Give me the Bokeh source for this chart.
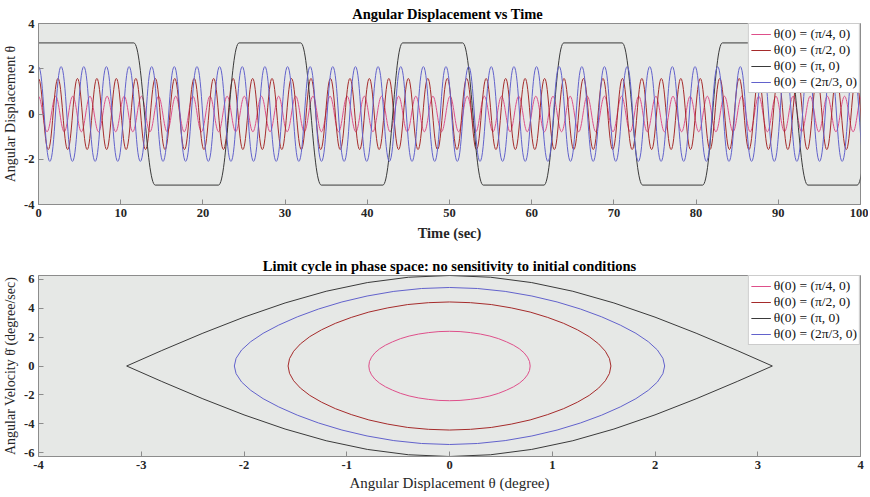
import numpy as np
from bokeh.plotting import figure
from bokeh.layouts import column
from bokeh.models import (LinearAxis, Range1d, Legend, LegendItem, FixedTicker,
                          ColumnDataSource, CustomJSTickFormatter)
from bokeh.embed import file_html
from bokeh.resources import INLINE

# ------------------------------------------------------------------ data
series_labels = ["θ(0) = (π/4, 0)", "θ(0) = (π/2, 0)", "θ(0) = (π, 0)", "θ(0) = (2π/3, 0)"]

time_ticks = [0, 10, 20, 30, 40, 50, 60, 70, 80, 90, 100]
theta_ticks = [-4, -2, 0, 2, 4]
phase_x_ticks = [-4, -3, -2, -1, 0, 1, 2, 3, 4]
phase_y_ticks = [-6, -4, -2, 0, 2, 4, 6]

# time histories: amplitude (rad) and times (s) of the maxima / minima
pink_amp = 0.785
pink_max_t = [0.00, 2.09, 4.17, 6.26, 8.35, 10.43, 12.52, 14.60, 16.69, 18.78, 20.86,
              22.95, 25.04, 27.12, 29.21, 31.29, 33.38, 35.47, 37.55, 39.64, 41.73,
              43.81, 45.90, 47.98, 50.07, 52.16, 54.24, 56.33, 58.42, 60.50, 62.59,
              64.68, 66.76, 68.85, 70.93, 73.02, 75.11, 77.19, 79.28, 81.37, 83.45,
              85.54, 87.62, 89.71, 91.80, 93.88, 95.97, 98.06, 100.14]
pink_min_t = [1.04, 3.13, 5.22, 7.30, 9.39, 11.47, 13.56, 15.65, 17.73, 19.82, 21.91,
              23.99, 26.08, 28.17, 30.25, 32.34, 34.42, 36.51, 38.60, 40.68, 42.77,
              44.86, 46.94, 49.03, 51.11, 53.20, 55.29, 57.37, 59.46, 61.55, 63.63,
              65.72, 67.80, 69.89, 71.98, 74.06, 76.15, 78.24, 80.32, 82.41, 84.50,
              86.58, 88.67, 90.75, 92.84, 94.93, 97.01, 99.10]

red_amp = 1.571
red_max_t = [0.00, 2.37, 4.74, 7.10, 9.47, 11.84, 14.21, 16.58, 18.94, 21.31, 23.68,
             26.05, 28.41, 30.78, 33.15, 35.52, 37.89, 40.25, 42.62, 44.99, 47.36,
             49.73, 52.09, 54.46, 56.83, 59.20, 61.57, 63.93, 66.30, 68.67, 71.04,
             73.40, 75.77, 78.14, 80.51, 82.88, 85.24, 87.61, 89.98, 92.35, 94.72,
             97.08, 99.45]
red_min_t = [1.18, 3.55, 5.92, 8.29, 10.66, 13.02, 15.39, 17.76, 20.13, 22.50, 24.86,
             27.23, 29.60, 31.97, 34.33, 36.70, 39.07, 41.44, 43.81, 46.17, 48.54,
             50.91, 53.28, 55.65, 58.01, 60.38, 62.75, 65.12, 67.49, 69.85, 72.22,
             74.59, 76.96, 79.32, 81.69, 84.06, 86.43, 88.80, 91.16, 93.53, 95.90,
             98.27, 100.64]

blue_amp = 2.094
blue_max_t = [0.00, 2.75, 5.51, 8.26, 11.02, 13.77, 16.52, 19.28, 22.03, 24.79, 27.54,
              30.30, 33.05, 35.80, 38.56, 41.31, 44.07, 46.82, 49.57, 52.33, 55.08,
              57.84, 60.59, 63.34, 66.10, 68.85, 71.61, 74.36, 77.11, 79.87, 82.62,
              85.38, 88.13, 90.89, 93.64, 96.39, 99.15]
blue_min_t = [1.38, 4.13, 6.89, 9.64, 12.39, 15.15, 17.90, 20.66, 23.41, 26.16, 28.92,
              31.67, 34.43, 37.18, 39.93, 42.69, 45.44, 48.20, 50.95, 53.71, 56.46,
              59.21, 61.97, 64.72, 67.48, 70.23, 72.98, 75.74, 78.49, 81.25, 84.00,
              86.75, 89.51, 92.26, 95.02, 97.77, 100.52]

# theta(0) = pi : sits at +/- pi and flips over; start / end time of each flip (s)
black_level = 3.1416
black_switch_start = [11.6, 21.9, 31.9, 41.9, 51.6, 61.5, 71.0, 80.8, 91.0, 99.6]
black_switch_end = [14.2, 24.4, 34.4, 44.3, 54.1, 63.9, 73.5, 83.2, 93.6, 102.2]

# phase portraits: one quarter of each orbit (theta >= 0, theta_dot >= 0)
pink_q_theta = [0, 0.103, 0.203, 0.301, 0.393, 0.478, 0.555, 0.623, 0.680, 0.726, 0.759, 0.779, 0.785]
pink_q_omega = [2.40, 2.38, 2.31, 2.21, 2.07, 1.89, 1.67, 1.44, 1.19, 0.91, 0.61, 0.31, 0]
red_q_theta = [0, 0.205, 0.407, 0.601, 0.785, 0.956, 1.111, 1.246, 1.360, 1.451, 1.517, 1.557, 1.571]
red_q_omega = [4.43, 4.38, 4.25, 4.02, 3.73, 3.36, 2.95, 2.50, 2.03, 1.53, 1.02, 0.51, 0]
black_q_theta = [0, 0.4, 0.8, 1.2, 1.6, 2.0, 2.4, 2.8, 3.142]
black_q_omega = [6.26, 6.14, 5.77, 5.17, 4.36, 3.38, 2.27, 1.07, 0]
blue_q_theta = [0, 0.273, 0.542, 0.802, 1.047, 1.275, 1.481, 1.662, 1.814, 1.935, 2.023, 2.077, 2.094]
blue_q_omega = [5.43, 5.36, 5.16, 4.84, 4.43, 3.94, 3.40, 2.83, 2.26, 1.68, 1.11, 0.53, 0]

# ------------------------------------------------------------------ style
FONT = "Liberation Serif"
FRAME_BG = "#E6E8E6"
AX = "#8c8c8c"
TXT = "#262626"
COLORS = ["#DE4F8A", "#A52B2B", "#3a3a3a", "#6262CC"]
# bezier handle fraction (wave shape) per series
SHAPE = {"pink": 0.372, "red": 0.401, "blue": 0.439, "black": 0.42}
FIG_W = 868


def osc_source(amp, max_t, min_t, shape):
    ext = sorted([(t, amp) for t in max_t] + [(t, -amp) for t in min_t])
    t = np.array([e[0] for e in ext])
    v = np.array([e[1] for e in ext])
    dt = t[1:] - t[:-1]
    return ColumnDataSource(dict(x0=t[:-1], y0=v[:-1], x1=t[1:], y1=v[1:],
                                 cx0=t[:-1] + shape * dt, cy0=v[:-1],
                                 cx1=t[1:] - shape * dt, cy1=v[1:]))


def black_sources(level, starts, ends, shape):
    fx0, fx1, fy = [], [], []
    bx0, by0, bx1, by1 = [], [], [], []
    prev = 0.0
    lev = level
    for s, e in zip(starts, ends):
        fx0.append(prev); fx1.append(s); fy.append(lev)
        bx0.append(s); by0.append(lev); bx1.append(e); by1.append(-lev)
        prev = e
        lev = -lev
    if prev < 100:
        fx0.append(prev); fx1.append(100); fy.append(lev)
    bx0, bx1 = np.array(bx0), np.array(bx1)
    w = bx1 - bx0
    flats = ColumnDataSource(dict(x0=fx0, x1=fx1, y0=fy, y1=fy))
    trans = ColumnDataSource(dict(x0=bx0, y0=by0, x1=bx1, y1=by1,
                                  cx0=bx0 + shape * w, cy0=by0,
                                  cx1=bx1 - shape * w, cy1=by1))
    return flats, trans


def orbit(q_theta, q_omega):
    th = np.array(q_theta, dtype=float)
    om = np.array(q_omega, dtype=float)
    ux = np.concatenate([-th[::-1], th[1:]])
    uy = np.concatenate([om[::-1], om[1:]])
    lx = ux[::-1][1:]
    ly = -uy[::-1][1:]
    return np.concatenate([ux, lx]), np.concatenate([uy, ly])


def make_fig(title, xlab, ylab, xr, yr, xt, yt, xlab_bold, lab_size, ylab_size,
             height, top, bottom, title_standoff, xlab_standoff):
    p = figure(width=FIG_W, height=height, x_range=Range1d(*xr), y_range=Range1d(*yr),
               output_backend="svg", toolbar_location=None,
               x_axis_location=None, y_axis_location=None,
               min_border_left=38, min_border_right=8,
               min_border_top=top, min_border_bottom=bottom,
               background_fill_color=FRAME_BG, border_fill_color="white",
               outline_line_color=AX, outline_line_width=1)
    p.xgrid.visible = False
    p.ygrid.visible = False
    p.title.text = title
    p.title.align = "center"
    p.title.text_font = FONT
    p.title.text_font_size = "14.5px"
    p.title.text_font_style = "bold"
    p.title.text_color = "#000000"
    p.title.standoff = title_standoff

    plain = CustomJSTickFormatter(code="return tick.toString()")
    axes = {
        "below": LinearAxis(ticker=FixedTicker(ticks=xt), axis_label=xlab, formatter=plain),
        "left": LinearAxis(ticker=FixedTicker(ticks=yt), axis_label=ylab, formatter=plain),
    }
    for loc, ax in axes.items():
        ax.axis_line_color = AX
        ax.major_tick_line_color = AX
        ax.major_tick_in = 5
        ax.major_tick_out = 0
        ax.minor_tick_line_color = None
        ax.major_label_text_font = FONT
        ax.major_label_text_font_size = "12.5px"
        ax.major_label_text_font_style = "bold"
        ax.major_label_text_color = TXT
        ax.major_label_standoff = 4
        ax.axis_label_text_font = FONT
        ax.axis_label_text_color = TXT
        ax.axis_label_standoff = 3
        ax.axis_label_text_font_style = "normal"
        p.add_layout(ax, loc)
    axes["below"].axis_label_text_font_size = lab_size
    axes["below"].axis_label_standoff = xlab_standoff
    axes["left"].axis_label_text_font_size = ylab_size
    if xlab_bold:
        axes["below"].axis_label_text_font_style = "bold"
    return p


def add_legend(p, renderers):
    legend = Legend(items=[LegendItem(label=l, renderers=[r])
                           for l, r in zip(series_labels, renderers)],
                    location="top_right", margin=0, padding=2, spacing=0,
                    label_text_font=FONT, label_text_font_size="13.5px",
                    label_text_color="#111111",
                    label_height=16, glyph_height=16, glyph_width=20, label_standoff=3,
                    border_line_color="#9a9a9a", border_line_width=1,
                    background_fill_color="white", background_fill_alpha=1)
    p.add_layout(legend)


# ------------------------------------------------------------------ top plot
p1 = make_fig("Angular Displacement  vs Time", "Time (sec)", "Angular Displacement θ",
              (0, 100), (-4, 4), time_ticks, theta_ticks, True, "14.5px", "14px",
              248, 23, 44, 4, 5)

src_pink = osc_source(pink_amp, pink_max_t, pink_min_t, SHAPE["pink"])
src_red = osc_source(red_amp, red_max_t, red_min_t, SHAPE["red"])
src_blue = osc_source(blue_amp, blue_max_t, blue_min_t, SHAPE["blue"])
flats, trans = black_sources(black_level, black_switch_start, black_switch_end, SHAPE["black"])

bz = dict(x0="x0", y0="y0", x1="x1", y1="y1", cx0="cx0", cy0="cy0", cx1="cx1", cy1="cy1")
p1.bezier(source=src_pink, line_color=COLORS[0], line_width=1, **bz)
p1.bezier(source=src_red, line_color=COLORS[1], line_width=1, **bz)
p1.segment(x0="x0", y0="y0", x1="x1", y1="y1", source=flats, line_color=COLORS[2], line_width=1)
p1.bezier(source=trans, line_color=COLORS[2], line_width=1, **bz)
p1.bezier(source=src_blue, line_color=COLORS[3], line_width=1, **bz)

# legend keys: line renderers placed outside the visible time range
leg1 = []
for c, a in zip(COLORS, [pink_amp, red_amp, black_level, blue_amp]):
    leg1.append(p1.line(x=[-20, -10], y=[a, a], line_color=c, line_width=1))
add_legend(p1, leg1)

# ------------------------------------------------------------------ phase plot
p2 = make_fig("Limit cycle in phase space: no sensitivity to initial conditions",
              "Angular Displacement θ (degree)", "Angular Velocity θ̇ (degree/sec)",
              (-4, 4), (-6.26, 6.26), phase_x_ticks, phase_y_ticks, False, "15px", "14px",
              247, 27, 39, 3, 3)

rends = []
for (qt, qo), c in zip([(pink_q_theta, pink_q_omega), (red_q_theta, red_q_omega),
                        (black_q_theta, black_q_omega), (blue_q_theta, blue_q_omega)], COLORS):
    x, y = orbit(qt, qo)
    rends.append(p2.line(x=x, y=y, line_color=c, line_width=1))
add_legend(p2, rends)

layout = column(p1, p2, spacing=0)
with open("out.html", "w") as f:
    f.write(file_html(layout, INLINE))
